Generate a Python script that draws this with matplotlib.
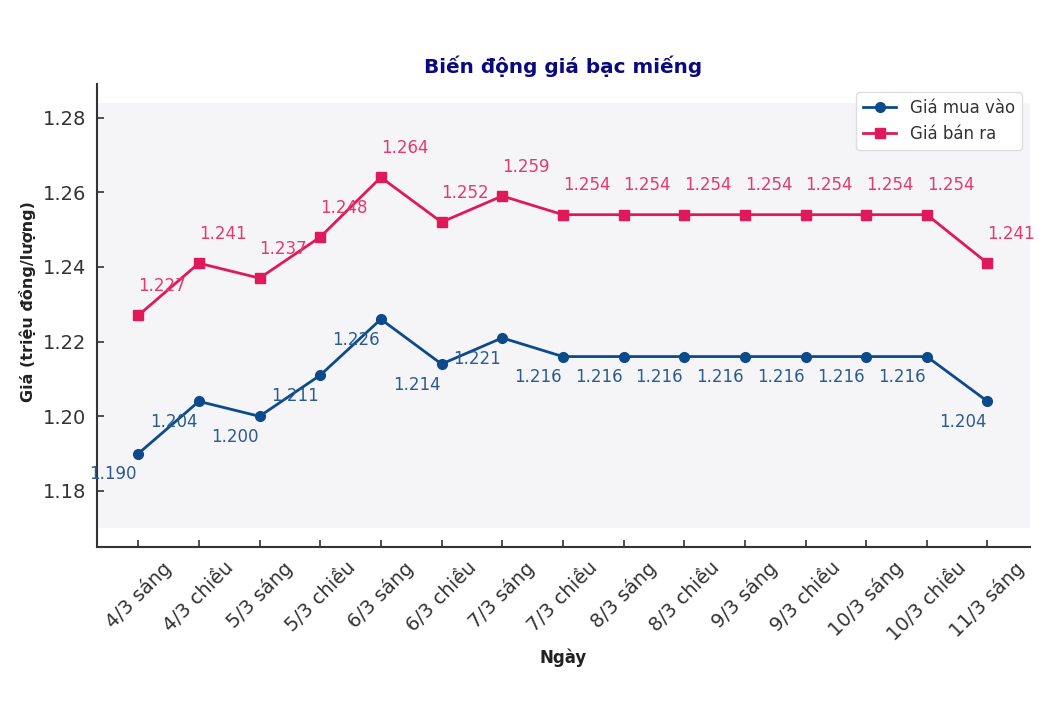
import matplotlib.pyplot as plt

# dữ liệu
ngay = ["4/3 sáng", "4/3 chiều", "5/3 sáng", "5/3 chiều", "6/3 sáng", "6/3 chiều",
        "7/3 sáng", "7/3 chiều", "8/3 sáng", "8/3 chiều", "9/3 sáng", "9/3 chiều",
        "10/3 sáng", "10/3 chiều", "11/3 sáng"]
gia_mua = [1.190, 1.204, 1.200, 1.211, 1.226, 1.214, 1.221, 1.216, 1.216, 1.216,
           1.216, 1.216, 1.216, 1.216, 1.204]
gia_ban = [1.227, 1.241, 1.237, 1.248, 1.264, 1.252, 1.259, 1.254, 1.254, 1.254,
           1.254, 1.254, 1.254, 1.254, 1.241]

BLUE = "#0b4a8b"
PINK = "#e0195a"


def main() -> None:
    fig = plt.figure(figsize=(10.45, 7.05), dpi=100)
    ax = fig.add_axes([0.0928, 0.2241, 0.8928, 0.6568])

    x = list(range(len(ngay)))
    lo, hi = min(gia_mua), max(gia_ban)
    ax.axhspan(lo - 0.02, hi + 0.02, color="#f5f5f7", zorder=0, lw=0)

    ax.plot(x, gia_mua, color=BLUE, marker="o", markersize=7, lw=2, label="Giá mua vào")
    ax.plot(x, gia_ban, color=PINK, marker="s", markersize=7, lw=2, label="Giá bán ra")

    for i, v in enumerate(gia_mua):
        ax.annotate(f"{v:.3f}", (i, v), xytext=(-18, -15), textcoords="offset points",
                    ha="center", va="center", fontsize=12, color="#2b5b8f")
    for i, v in enumerate(gia_ban):
        ax.annotate(f"{v:.3f}", (i, v), xytext=(17, 21), textcoords="offset points",
                    ha="center", va="center", fontsize=12, color="#e43a6e")

    ax.set_xlim(-0.68, 14.7)
    ax.set_ylim(lo - 0.025, hi + 0.025)
    ax.set_xticks(x)
    ax.set_xticklabels(ngay, rotation=45, ha="center")
    ax.set_yticks([1.18, 1.20, 1.22, 1.24, 1.26, 1.28])
    ax.tick_params(direction="in", length=5, width=1.2, labelsize=14,
                   colors="#333333", pad=8)

    for s in ("top", "right"):
        ax.spines[s].set_visible(False)
    for s in ("left", "bottom"):
        ax.spines[s].set_color("#333333")
        ax.spines[s].set_linewidth(1.5)

    ax.set_title("Biến động giá bạc miếng", fontsize=14.4, fontweight="bold",
                 color="#0a0a80", pad=8)
    ax.set_xlabel("Ngày", fontsize=12, fontweight="bold", color="#222222", labelpad=3.5)
    ax.set_ylabel("Giá (triệu đồng/lượng)", fontsize=11.5, fontweight="bold",
                  color="#222222")
    ax.yaxis.set_label_coords(-0.065, 0.531)

    leg = ax.legend(loc="upper right", fontsize=12, frameon=True, framealpha=1,
                    edgecolor="#dddddd")
    for t in leg.get_texts():
        t.set_color("#333333")

    fig.savefig("out.png", dpi=100)


if __name__ == "__main__":
    main()
